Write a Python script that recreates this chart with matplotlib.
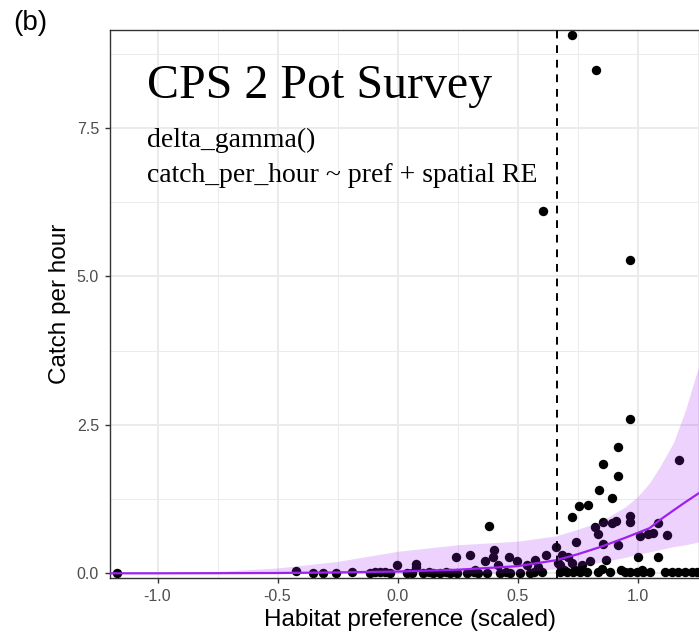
import matplotlib
matplotlib.use("Agg")
import matplotlib.pyplot as plt
from matplotlib.ticker import MultipleLocator

# observed catch per hour vs scaled habitat preference
pref = [0.729, 0.829, 0.606, 0.969, 0.969, 0.920, 0.858, 0.917, 1.173, 0.841,
        0.895, 0.755, 0.794, 0.726, 0.383, 0.969, 0.969, 0.909, 0.892, 0.858,
        0.823, 0.837, 1.087, 1.066, 1.042, 1.010, 1.122, 0.920, 0.858, 0.744,
        0.662, 0.619, 0.573, 0.869, 1.003, 1.087, 0.402, 0.397, 0.365, 0.302,
        0.242, 0.466, 0.497, 0.420, 0.538, 0.587, 0.600, 0.323, -0.003, 0.076,
        0.076, 0.684, 0.712, 0.677, 0.670, 0.726, 0.767, 0.802,
        -1.167, -0.423, -0.351, -0.309, -0.256, -0.191, -0.115, -0.094, -0.073,
        -0.052, -0.031, 0.038, 0.059,
        0.108, 0.149, 0.177, 0.219, 0.247, 0.288, 0.337, 0.372, 0.427, 0.469,
        0.510, 0.552, 0.130, 0.200, 0.320, 0.450, 0.570,
        0.677, 0.705, 0.733, 0.760, 0.788, 0.837, 0.885, 0.948, 0.969, 0.997,
        1.024, 1.052, 1.115, 1.142, 1.170, 1.198, 1.226, 1.247,
        0.695, 0.850, 0.930, 1.020, 0.740]
cph = [9.06, 8.48, 6.10, 5.27, 2.60, 2.12, 1.84, 1.64, 1.90, 1.41,
       1.26, 1.14, 1.15, 0.94, 0.80, 0.96, 0.87, 0.88, 0.84, 0.86,
       0.78, 0.67, 0.84, 0.68, 0.66, 0.63, 0.64, 0.47, 0.49, 0.52,
       0.45, 0.31, 0.22, 0.22, 0.27, 0.27, 0.40, 0.27, 0.20, 0.31,
       0.27, 0.27, 0.20, 0.14, 0.14, 0.11, 0.03, 0.06, 0.14, 0.15,
       0.10, 0.31, 0.28, 0.14, 0.17, 0.17, 0.14, 0.20,
       0.0, 0.04, 0.01, 0.01, 0.01, 0.03, 0.01, 0.02, 0.02,
       0.02, 0.01, 0.01, 0.01,
       0.01, 0.01, 0.01, 0.01, 0.01, 0.01, 0.01, 0.01, 0.01, 0.01,
       0.01, 0.01, 0.02, 0.02, 0.02, 0.02, 0.02,
       0.02, 0.02, 0.02, 0.02, 0.02, 0.02, 0.02, 0.02, 0.02, 0.02,
       0.02, 0.02, 0.02, 0.02, 0.02, 0.02, 0.02, 0.02,
       0.06, 0.07, 0.06, 0.05, 0.05]

# model prediction (mean and 95% band)
grid_x = [-1.2, -1.0, -0.75, -0.5, -0.25, 0.0, 0.25, 0.5, 0.66, 0.75,
          0.85, 0.95, 1.0, 1.05, 1.094, 1.15, 1.2, 1.256, 1.30]
fit_mean = [0.0, 0.0, 0.002, 0.005, 0.015, 0.03, 0.06, 0.12, 0.22, 0.32,
            0.45, 0.60, 0.68, 0.76, 0.90, 1.06, 1.20, 1.35, 1.48]
fit_lo = [0.0, 0.0, 0.0, 0.0, 0.0, 0.0, 0.0, 0.01, 0.08, 0.12,
          0.19, 0.27, 0.32, 0.36, 0.40, 0.45, 0.48, 0.53, 0.57]
fit_hi = [0.0, 0.01, 0.03, 0.09, 0.20, 0.37, 0.48, 0.54, 0.63, 0.74,
          0.88, 1.12, 1.29, 1.52, 1.80, 2.20, 2.75, 3.50, 4.20]
threshold = 0.666

plt.rcParams['font.family'] = ['Liberation Sans', 'DejaVu Sans']

fig = plt.figure(figsize=(6.99, 6.37), dpi=100)
# panel runs a little past the right edge of the picture (cropped)
ax = fig.add_axes([110 / 699, 1 - 578.3 / 637, 600 / 699, (578.3 - 30) / 637])

ax.scatter(pref, cph, s=46, color='black', linewidths=0, zorder=2)
ax.fill_between(grid_x, fit_lo, fit_hi, color='#A020F0', alpha=0.2, linewidth=0, zorder=3)
ax.plot(grid_x, fit_mean, color='#A020F0', lw=1.6, zorder=4)
ax.axvline(threshold, color='black', lw=1.4, ls=(0, (4, 3.5)), zorder=5)

ax.set_xlim(-1.198, 1.302)
ax.set_ylim(-0.084, 9.146)
ax.xaxis.set_major_locator(MultipleLocator(0.5))
ax.xaxis.set_minor_locator(MultipleLocator(0.25))
ax.yaxis.set_major_locator(MultipleLocator(2.5))
ax.yaxis.set_minor_locator(MultipleLocator(1.25))
ax.set_xticks([-1.0, -0.5, 0.0, 0.5, 1.0])
ax.set_xticklabels(['-1.0', '-0.5', '0.0', '0.5', '1.0'])

ax.set_axisbelow(True)
ax.grid(which='major', color='#EBEBEB', lw=1.4)
ax.grid(which='minor', color='#EBEBEB', lw=0.7)
ax.tick_params(which='major', length=3.7, width=1.0, color='#333333',
               labelcolor='#4D4D4D', labelsize=11.5, pad=4.3)
ax.tick_params(which='minor', length=0)
for side in ['left', 'bottom', 'top']:
    ax.spines[side].set_color('#333333')
    ax.spines[side].set_linewidth(1.0)
ax.spines['right'].set_visible(False)

ax.set_xlabel('Habitat preference (scaled)', fontsize=17.5, labelpad=3.5)
ax.set_ylabel('Catch per hour', fontsize=17.5, labelpad=4)

serif = ['Liberation Serif', 'DejaVu Serif']
ax.text(-1.044, 8.0, 'CPS 2 Pot Survey', family=serif, fontsize=34.5, va='baseline')
ax.text(-1.044, 7.18, 'delta_gamma()', family=serif, fontsize=20, va='baseline')
ax.text(-1.044, 6.59, 'catch_per_hour ~ pref + spatial RE', family=serif, fontsize=20,
        va='baseline')

fig.text(30 / 699, 1 - 23 / 637, '(b)', fontsize=20, ha='center', va='center')

fig.savefig('out.png', dpi=100)
